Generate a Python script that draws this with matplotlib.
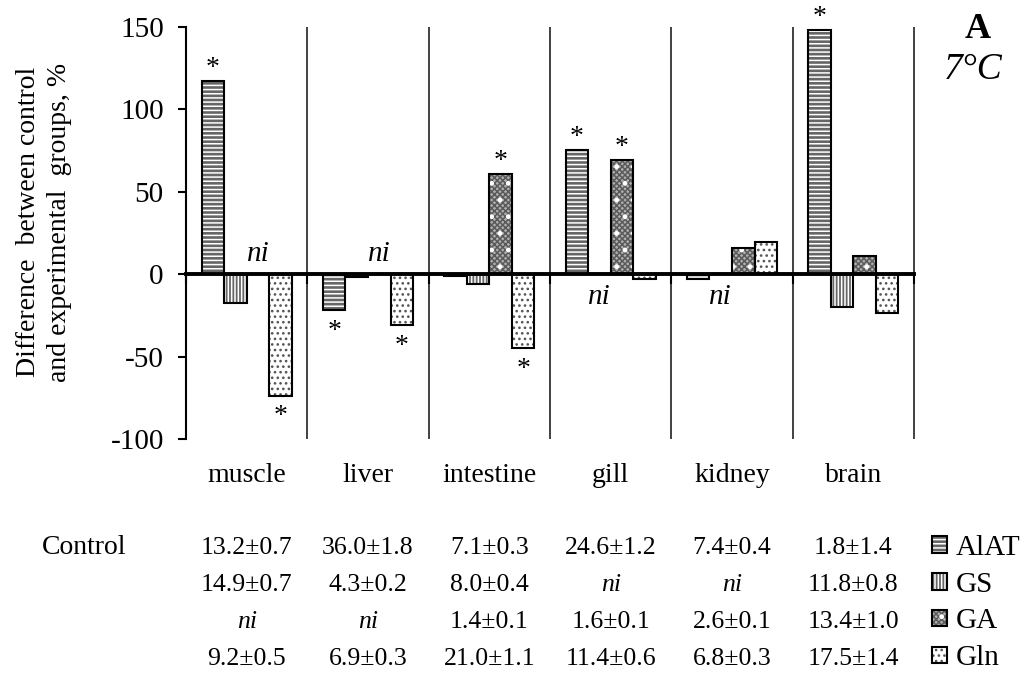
import matplotlib.pyplot as plt
import numpy as np
from matplotlib.transforms import blended_transform_factory

plt.rcParams['font.family'] = ['Liberation Serif', 'DejaVu Serif']
plt.rcParams['axes.unicode_minus'] = False
plt.rcParams['hatch.linewidth'] = 1.1

# data (difference vs control, %)
tissues = ['muscle', 'liver', 'intestine', 'gill', 'kidney', 'brain']
enzymes = ['AlAT', 'GS', 'GA', 'Gln']
alat = [117, -22, -1, 75.5, -3, 148]
gs = [-17.5, -2, -6, np.nan, np.nan, -20]
ga = [np.nan, np.nan, 60.5, 69.5, 16, 11]
gln = [-74, -31, -45, -3, 19.5, -23.5]
series = [alat, gs, ga, gln]

# significance (*) per enzyme and tissue
sig_alat = [1, 1, 0, 1, 0, 1]
sig_gs = [0, 0, 0, 0, 0, 0]
sig_ga = [0, 0, 1, 1, 0, 0]
sig_gln = [1, 1, 1, 0, 0, 0]
sigs = [sig_alat, sig_gs, sig_ga, sig_gln]
# 'ni' label side for missing bars of each enzyme
ni_side = ['above', 'below', 'above', 'above']

# control values table
ctrl_alat = ['13.2±0.7', '36.0±1.8', '7.1±0.3', '24.6±1.2', '7.4±0.4', '1.8±1.4']
ctrl_gs = ['14.9±0.7', '4.3±0.2', '8.0±0.4', 'ni', 'ni', '11.8±0.8']
ctrl_ga = ['ni', 'ni', '1.4±0.1', '1.6±0.1', '2.6±0.1', '13.4±1.0']
ctrl_gln = ['9.2±0.5', '6.9±0.3', '21.0±1.1', '11.4±0.6', '6.8±0.3', '17.5±1.4']
ctrl_rows = [ctrl_alat, ctrl_gs, ctrl_ga, ctrl_gln]

# fill layers per enzyme: (face colour, hatch, hatch colour)
styles = [[('#666666', '----', 'white')],
          [('#666666', '|||||', 'white')],
          [('#b0b0b0', 'xxxxxx', '#5a5a5a'), ('none', '.', 'white')],
          [('white', '...', '#555555')]]

fig = plt.figure(figsize=(10.32, 6.73), dpi=100)
ax = fig.add_axes([186/1032, 1-439/673, 728/1032, 412/673])

x = np.arange(len(tissues)) + 0.5
w = 0.186
handles = []
for k, vals in enumerate(series):
    xs = x + (k - 1.5) * w
    parts = []
    for fc, h, hc in styles[k]:
        b = ax.bar(xs, vals, w, color=fc, hatch=h, edgecolor=hc, linewidth=0, zorder=2)
        parts.append(b[0])
    b2 = ax.bar(xs, vals, w, fill=False, edgecolor='black', linewidth=1.5, zorder=3)
    parts.append(b2[0])
    handles.append(tuple(parts))
    for i, v in enumerate(vals):
        if np.isnan(v):
            if ni_side[k] == 'above':
                ax.annotate('ni', (xs[i], 0), xytext=(0, 5), textcoords='offset points',
                            ha='center', va='bottom', fontsize=21, style='italic')
            else:
                ax.annotate('ni', (xs[i], 0), xytext=(0, -7), textcoords='offset points',
                            ha='center', va='top', fontsize=21, style='italic')
        elif sigs[k][i]:
            if v > 0:
                ax.annotate('*', (xs[i], v), xytext=(0, 0), textcoords='offset points',
                            ha='center', va='bottom', fontsize=20)
            else:
                ax.annotate('*', (xs[i], v), xytext=(0, -6), textcoords='offset points',
                            ha='center', va='top', fontsize=20)

ax.set_xlim(0, 6)
ax.set_ylim(-100, 150)
ax.set_yticks([-100, -50, 0, 50, 100, 150])
ax.vlines(np.arange(1, 7), -100, 150, color='#333333', linewidth=1.3, clip_on=False, zorder=1)
for s in ['top', 'right']:
    ax.spines[s].set_visible(False)
ax.spines['bottom'].set_position(('data', 0))
ax.spines['bottom'].set_linewidth(2.8)
ax.spines['bottom'].set_zorder(4)
ax.spines['left'].set_linewidth(1.5)
ax.set_xticks(np.arange(0, 7))
ax.tick_params(axis='x', length=7, width=1.5, labelbottom=False)
ax.tick_params(axis='y', length=6, width=1.5, labelsize=21, pad=10)

fig.text(44/1032, 1-222/673, 'Difference  between control\nand experimental  groups, %',
         rotation=90, ha='center', va='center', fontsize=20, linespacing=1.3)

trans = blended_transform_factory(ax.transData, fig.transFigure)
for i, t in enumerate(tissues):
    ax.text(x[i], 1-475/673, t, transform=trans, ha='center', va='center', fontsize=20)

row_y = [548, 585, 622, 659]
fig.text(42/1032, 1-row_y[0]/673, 'Control', ha='left', va='center', fontsize=20)
for r, row in enumerate(ctrl_rows):
    for i, s in enumerate(row):
        ax.text(x[i], 1-row_y[r]/673, s, transform=trans, ha='center', va='center',
                fontsize=18.5, style='italic' if s == 'ni' else 'normal')

fig.text(978/1032, 1-30/673, 'A', ha='center', va='center', fontsize=26, fontweight='bold')
fig.text(973/1032, 1-70/673, '7°C', ha='center', va='center', fontsize=27, style='italic')

fig.legend(handles, enzymes, loc='center left', bbox_to_anchor=(932/1032, 1-603/673),
           frameon=False, fontsize=21, handlelength=0.5, handleheight=0.5,
           handletextpad=0.3, labelspacing=0.37, borderpad=0, borderaxespad=0)

fig.savefig('out.png', dpi=100)
